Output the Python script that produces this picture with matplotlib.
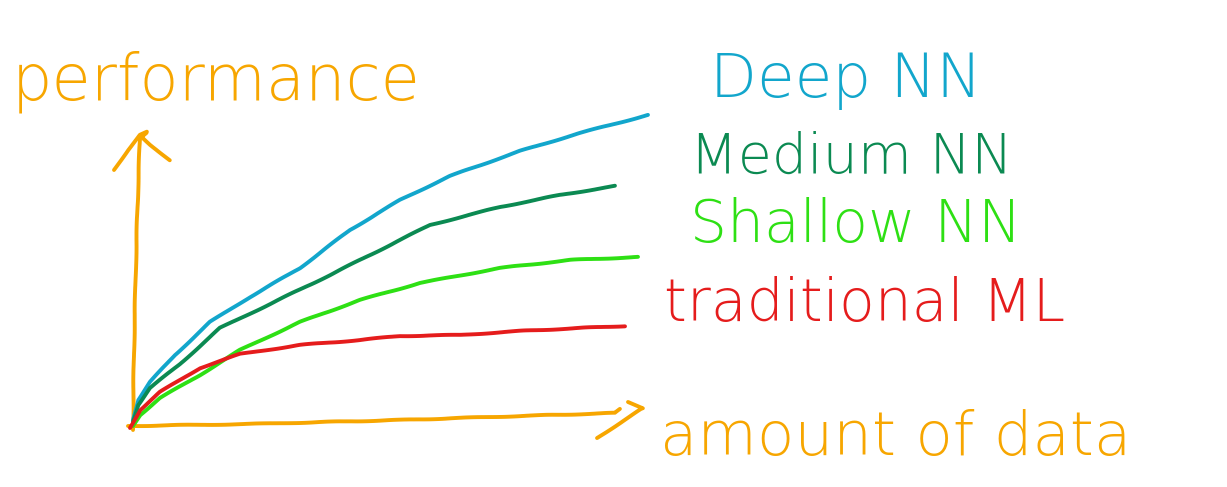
import matplotlib.pyplot as plt
import numpy as np

# Hand-sketched chart, coordinates (pixels, y downwards)
orange = '#f7a600'

# axes strokes
y_axis_x = [133, 134, 136, 138, 140]
y_axis_y = [430, 350, 260, 190, 138]
y_head_x = [114, 128, 140, 147, 141, 150, 170]
y_head_y = [170, 150, 135, 132, 137, 145, 160]
x_axis_x = [128, 250, 400, 520, 615, 620]
x_axis_y = [426, 424, 420, 416, 413, 409]
x_head_x = [628, 643, 597]
x_head_y = [402, 408, 438]

# curves
deep_x = [133, 138, 150, 175, 210, 250, 300, 350, 400, 450, 520, 580, 648]
deep_y = [420, 400, 382, 355, 322, 297, 268, 230, 200, 176, 151, 133, 115]
medium_x = [133, 138, 150, 180, 220, 270, 330, 380, 430, 500, 560, 615]
medium_y = [422, 405, 388, 364, 328, 304, 275, 250, 225, 207, 195, 186]
shallow_x = [133, 140, 160, 200, 240, 300, 360, 420, 500, 570, 638]
shallow_y = [426, 415, 398, 375, 350, 322, 300, 283, 268, 260, 257]
trad_x = [130, 140, 160, 200, 240, 300, 360, 400, 460, 520, 580, 625]
trad_y = [428, 410, 392, 368, 354, 345, 340, 336, 335, 331, 328, 326]

curves = [
    (deep_x, deep_y, '#12a6cc'),
    (medium_x, medium_y, '#0b8a52'),
    (shallow_x, shallow_y, '#2ee014'),
    (trad_x, trad_y, '#e51c1c'),
]

labels = ['performance', 'Deep NN', 'Medium NN', 'Shallow NN', 'traditional ML', 'amount of data']
label_x = [12, 710, 690, 690, 664, 660]
label_y = [82, 80, 158, 226, 305, 438]
label_colors = [orange, '#12a6cc', '#0b8a52', '#2ee014', '#e51c1c', orange]
label_sizes = [46, 44, 40, 42, 42, 44]

fig = plt.figure(figsize=(12.27, 4.87), dpi=100)
ax = fig.add_axes([0, 0, 1, 1])
ax.set_xlim(0, 1227)
ax.set_ylim(487, 0)
ax.axis('off')

with plt.rc_context({'path.sketch': (0.35, 80, 2)}):
    for xs, ys in [(y_axis_x, y_axis_y), (y_head_x, y_head_y),
                   (x_axis_x, x_axis_y), (x_head_x, x_head_y)]:
        ax.plot(xs, ys, color=orange, lw=2.8, solid_capstyle='round', solid_joinstyle='round')
    for xs, ys, c in curves:
        ax.plot(xs, ys, color=c, lw=2.8, solid_capstyle='round', solid_joinstyle='round')

for t, x, y, c, s in zip(labels, label_x, label_y, label_colors, label_sizes):
    ax.text(x, y, t, color=c, fontsize=s, va='center', ha='left',
            family='DejaVu Sans', fontweight='light')

fig.savefig('out.png', dpi=100)
